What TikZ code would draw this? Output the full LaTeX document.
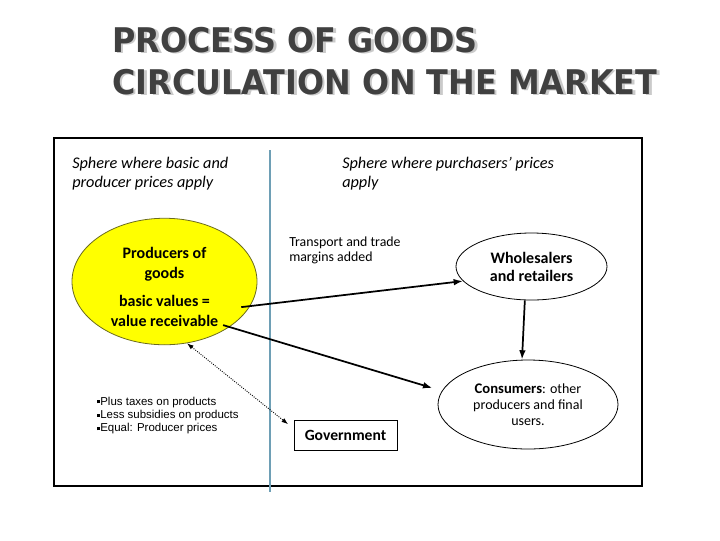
\documentclass[tikz,border=0pt]{standalone}
\usepackage{fontspec}
\setmainfont{Carlito}
\newfontfamily\titlefont{DejaVu Sans}
\newfontfamily\bulletfont{Liberation Sans}
\usetikzlibrary{shapes.geometric,arrows.meta}
\definecolor{titlegray}{HTML}{404040}
\definecolor{shadowgray}{HTML}{CACACA}
\definecolor{divblue}{HTML}{6E9FB5}
\definecolor{prodyellow}{HTML}{FFFF00}
\definecolor{prodborder}{HTML}{6B6B1E}
\begin{document}
\begin{tikzpicture}[x=0.75pt,y=-0.75pt,
  titletext/.style={font=\titlefont\bfseries\fontsize{25.5}{30}\selectfont, inner sep=0pt, anchor=base west},
  spheretext/.style={font=\itshape\fontsize{12.2}{14.3}\selectfont, align=left, inner sep=0pt, anchor=west},
  plaintext/.style={font=\fontsize{10.4}{11.3}\selectfont, align=left, inner sep=0pt, anchor=west},
  ell/.style={ellipse, draw, line width=0.6pt, inner sep=0pt, align=center},
  flow/.style={-{Latex[length=7pt,width=5pt]}, line width=1.3pt},
  dotflow/.style={{Latex[length=5pt,width=3.5pt]}-{Latex[length=5pt,width=3.5pt]}, densely dotted, line width=0.7pt},
]
\useasboundingbox (0,0) rectangle (720,540);

% title with shadow
\node[titletext, text=shadowgray] (t1s) at (114.5,53.5) {\scalebox{0.937}[1]{PROCESS OF GOODS}};
\node[titletext, text=shadowgray] (t2s) at (114.5,95.5) {\scalebox{0.937}[1]{CIRCULATION ON THE MARKET}};
\node[titletext, text=titlegray] (t1) at (112,52) {\scalebox{0.937}[1]{PROCESS OF GOODS}};
\node[titletext, text=titlegray] (t2) at (112,94) {\scalebox{0.937}[1]{CIRCULATION ON THE MARKET}};

% frame and divider
\draw[line width=1pt] (54,138) rectangle (642,486);
\draw[divblue, line width=0.8pt] (270,150) -- (270,492);

% headings
\node[spheretext] (sl) at (72,174) {Sphere where basic and\\producer prices apply};
\node[spheretext] (sr) at (342,174) {Sphere where purchasers’ prices\\apply};

% producers
\node[ell, fill=prodyellow, draw=prodborder, minimum width=138.75pt, minimum height=90.75pt,
      font=\bfseries\fontsize{12}{15}\selectfont] (prod) at (164.5,281.5)
  {\rule{0pt}{16pt}Producers of\\goods\\[6pt]basic values =\\value receivable};

% wholesalers
\node[ell, minimum width=113.25pt, minimum height=50.25pt,
      font=\bfseries\fontsize{12}{13.5}\selectfont] (whole) at (531.5,266.5)
  {Wholesalers\\and retailers};

% consumers
\node[ell, minimum width=135pt, minimum height=66.75pt,
      font=\fontsize{10.5}{12}\selectfont] (cons) at (528,404.5)
  {\textbf{\fontsize{11}{12}\selectfont Consumers}: other\\producers and final\\users.};

% government
\node[draw, line width=0.6pt, minimum width=77.25pt, minimum height=22.5pt, inner sep=0pt,
      font=\bfseries\fontsize{11.7}{13}\selectfont] (gov) at (345.5,435) {Government};

% texts
\node[plaintext] (trans) at (289,250) {Transport and trade\\margins added};
\node[font=\bulletfont\fontsize{8.6}{10.1}\selectfont, align=left, inner sep=0pt, anchor=west] (bul) at (97,415.5)
  {\raisebox{0.25ex}{\rule{2.3pt}{2.3pt}}Plus taxes on products\\
   \raisebox{0.25ex}{\rule{2.3pt}{2.3pt}}Less subsidies on products\\
   \raisebox{0.25ex}{\rule{2.3pt}{2.3pt}}Equal: Producer prices};

% connectors
\draw[flow, shorten <=-6.75pt] (prod.-16) -- (whole.192);
\draw[flow, shorten <=-5pt, shorten >=7.5pt] (prod.-35) -- (cons.171);
\draw[flow] ([xshift=-5pt]whole.south) -- ([xshift=-4.5pt]cons.north);
\draw[dotflow, shorten >=5.25pt] (prod.-70) -- ([yshift=-6.75pt]gov.north west);
\end{tikzpicture}
\end{document}
